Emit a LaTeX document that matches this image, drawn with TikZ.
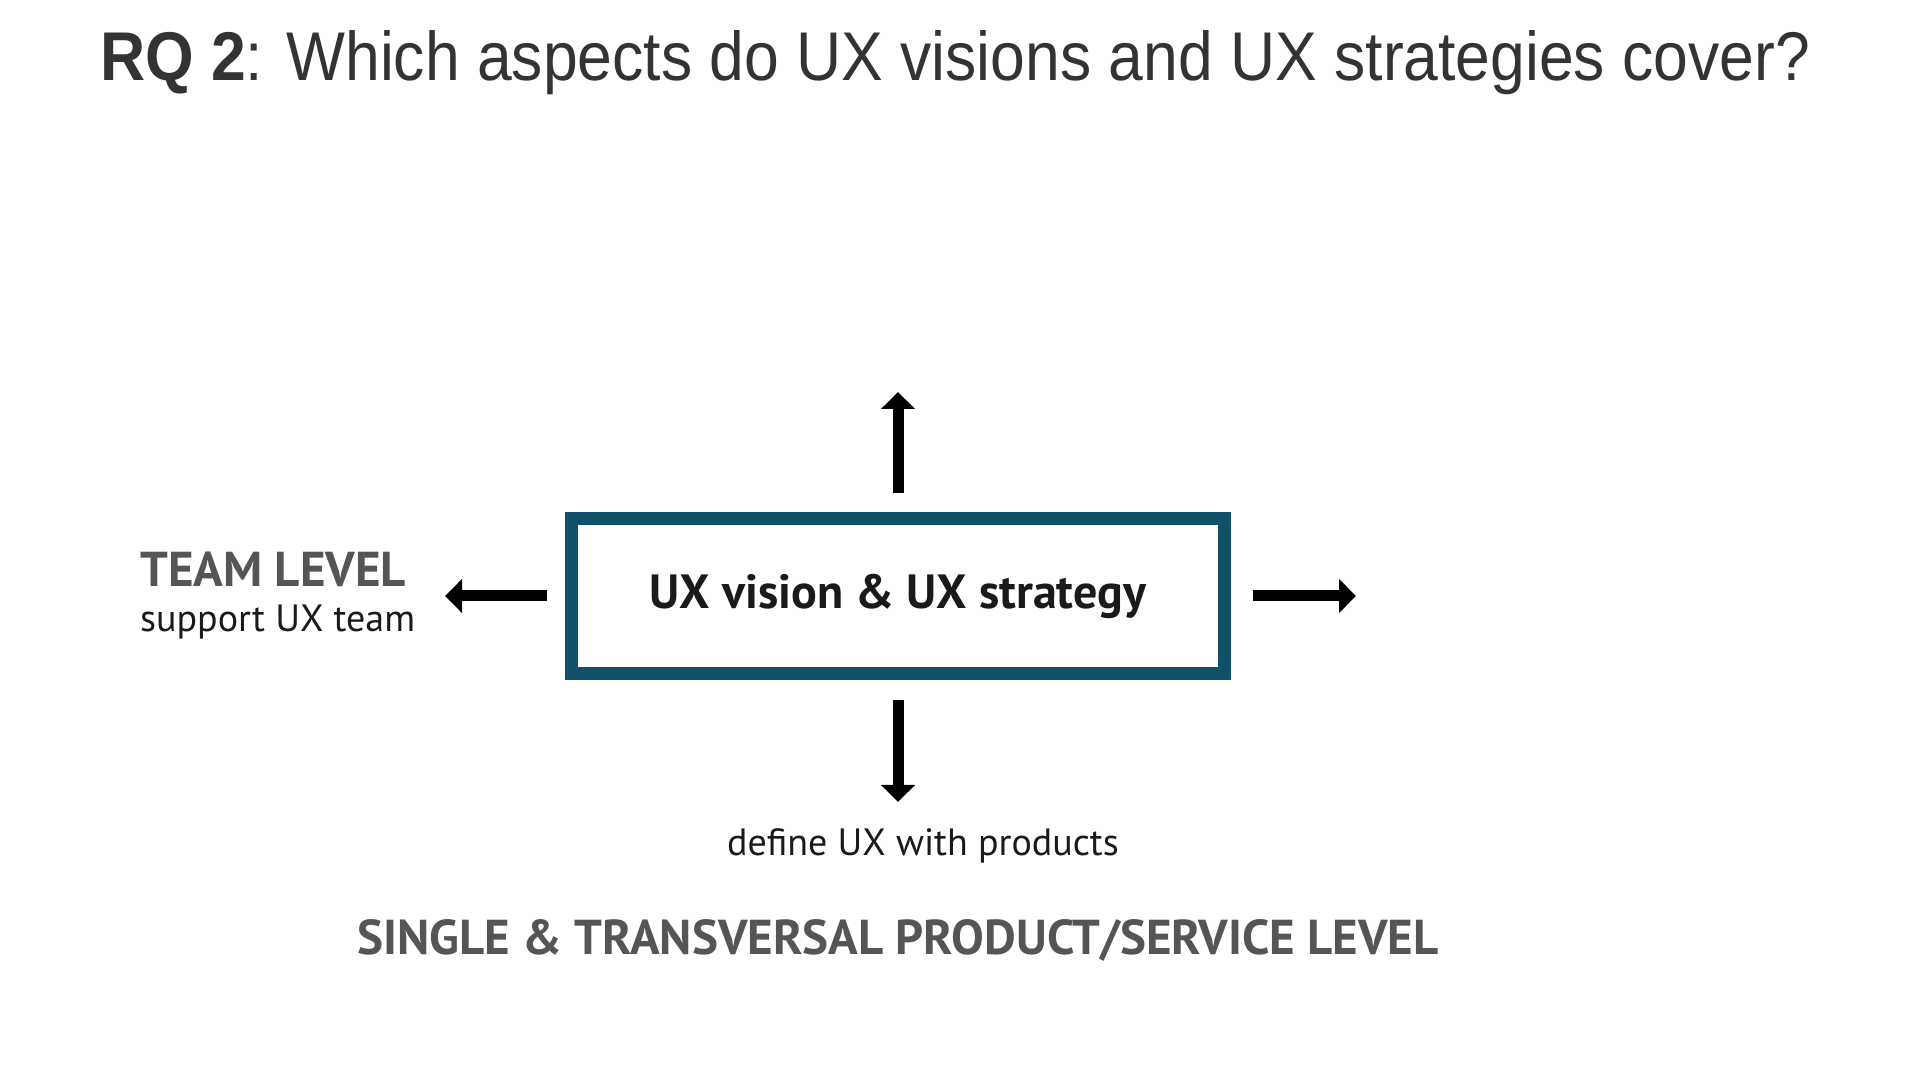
\documentclass[tikz,border=0pt]{standalone}
\usepackage{fontspec}
\setmainfont{PT Sans}
\newfontfamily\titlefont{Liberation Sans}
\usetikzlibrary{positioning,arrows.meta}
\definecolor{boxblue}{HTML}{12516A}
\definecolor{levelgray}{HTML}{555555}
\definecolor{titlegray}{HTML}{333333}
\definecolor{textblack}{HTML}{1A1A1A}

\begin{document}
\begin{tikzpicture}[x=1pt, y=1pt]
    % Styles
    \tikzstyle{strategy} = [rectangle, minimum width=653pt, minimum height=155pt, inner sep=0pt, draw=boxblue, line width=13pt, fill=white, text=textblack, font=\fontsize{48}{52}\selectfont\bfseries]
    \tikzstyle{arrow} = [line width=11pt, -{Triangle[length=17pt, width=33pt]}]
    \tikzstyle{level} = [inner sep=0pt, text=levelgray, font=\fontsize{49}{54}\selectfont\bfseries]
    \tikzstyle{caption} = [inner sep=0pt, text=textblack, font=\fontsize{38}{42}\selectfont]

    \useasboundingbox (0,0) rectangle (1920,1080);

    % Title
    \node (title) [inner sep=0pt, anchor=base west, text=titlegray, font=\titlefont\fontsize{69}{74}\selectfont] at (100,999) {\scalebox{0.905}[1]{\textbf{RQ 2}: Which aspects do UX visions and UX strategies cover?}};

    % Nodes
    \node (vision) [strategy] at (898,484) {UX vision \& UX strategy};

    \coordinate [above=19pt of vision] (upfrom);
    \coordinate [above=120pt of vision] (upto);
    \coordinate [below=20pt of vision] (downfrom);
    \coordinate [below=122pt of vision] (downto);
    \coordinate [left=18pt of vision] (leftfrom);
    \coordinate [left=120pt of vision] (leftto);
    \coordinate [right=22pt of vision] (rightfrom);
    \coordinate [right=125pt of vision] (rightto);

    % Arrows
    \draw [arrow] (upfrom) -- (upto);
    \draw [arrow] (downfrom) -- (downto);
    \draw [arrow] (leftfrom) -- (leftto);
    \draw [arrow] (rightfrom) -- (rightto);

    % Captions
    \node (team) [level, anchor=base west] at (140,493) {TEAM LEVEL};
    \node (support) [caption, anchor=base west] at (140,448) {support UX team};
    \node (define) [caption, anchor=base] at (923,225) {define UX with products};
    \node (product) [level, anchor=base] at (898,126) {SINGLE \& TRANSVERSAL PRODUCT/SERVICE LEVEL};
\end{tikzpicture}
\end{document}
